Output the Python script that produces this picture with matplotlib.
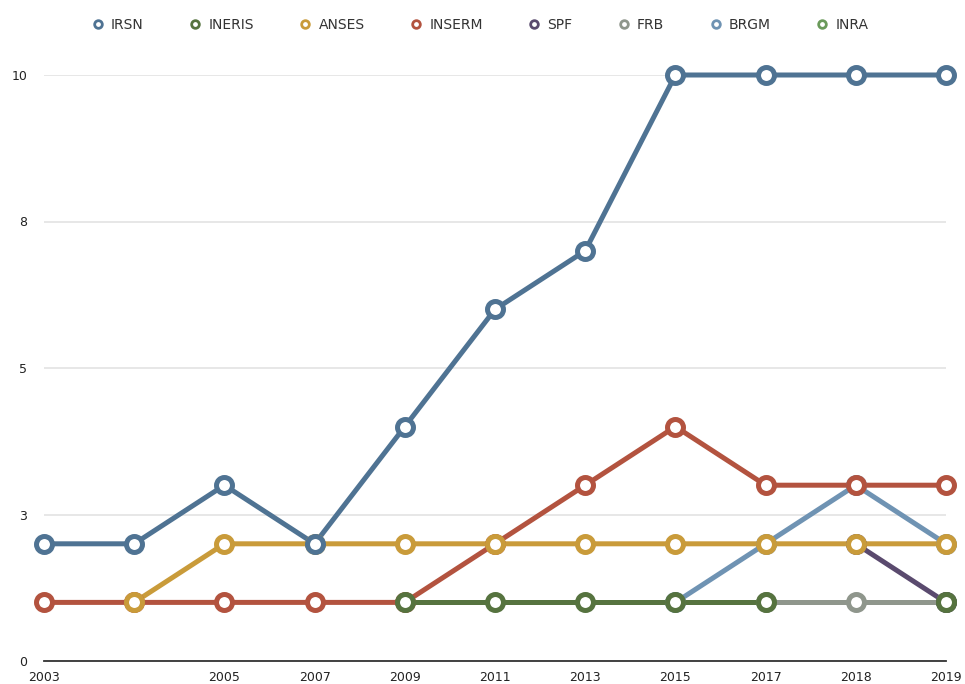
import matplotlib
matplotlib.use("Agg")
import matplotlib.pyplot as plt
import numpy as np
from matplotlib.lines import Line2D

nan = np.nan

years = ["2003", "", "2005", "2007", "2009", "2011", "2013", "2015", "2017", "2018", "2019"]

irsn = [2, 2, 3, 2, 4, 6, 7, 10, 10, 10, 10]
ineris = [nan, nan, nan, nan, 1, 1, 1, 1, 1, nan, 1]
anses = [nan, 1, 2, 2, 2, 2, 2, 2, 2, 2, 2]
inserm = [1, 1, 1, 1, 1, 2, 3, 4, 3, 3, 3]
spf = [nan, nan, nan, nan, nan, nan, nan, nan, nan, 2, 1]
frb = [nan, nan, nan, nan, nan, nan, nan, nan, 1, 1, 1]
brgm = [nan, nan, nan, nan, nan, nan, nan, 1, 2, 3, 2]
inra = [nan, nan, nan, nan, nan, nan, nan, nan, nan, nan, 1]

names = ["IRSN", "INERIS", "ANSES", "INSERM", "SPF", "FRB", "BRGM", "INRA"]
series = [irsn, ineris, anses, inserm, spf, frb, brgm, inra]
colors = ["#4F7393", "#56733F", "#C99B3A", "#B3533F", "#5A4A6E", "#8F968C", "#6F93B3", "#6A9A5A"]

yticks = [0, 2.5, 5, 7.5, 10]
ytick_labels = ["0", "3", "5", "8", "10"]

fig = plt.figure(figsize=(9.65, 6.84), dpi=100)
ax = fig.add_axes([44 / 965, 1 - 661 / 684, (946 - 44) / 965, (661 - 75) / 684])

x = np.arange(len(years))
n = len(series)
for i, (name, vals, c) in enumerate(zip(names, series, colors)):
    ax.plot(x, vals, "-", color=c, lw=3.6, zorder=2 + (n - i) * 0.01,
            solid_capstyle="round", clip_on=False)
    ax.plot(x, vals, "o", color=c, ms=11.5, mew=3.6, mfc="white", ls="none",
            zorder=3 + (n - i) * 0.01, clip_on=False)

ax.set_xlim(0, len(years) - 1)
ax.set_ylim(0, 10)
ax.set_xticks(x)
ax.set_xticklabels(years, fontsize=9, color="#222222")
ax.set_yticks(yticks)
ax.set_yticklabels(ytick_labels, fontsize=9, color="#222222")
ax.tick_params(axis="both", length=0)
ax.tick_params(axis="y", pad=12)
ax.tick_params(axis="x", pad=7)
ax.grid(axis="y", color="#e3e3e3", lw=1.2)
ax.set_axisbelow(True)
for s in ["top", "right", "left"]:
    ax.spines[s].set_visible(False)
ax.spines["bottom"].set_color("#333333")
ax.spines["bottom"].set_linewidth(1.3)
ax.spines["bottom"].set_zorder(1)

handles = [Line2D([], [], marker="o", ls="none", color=c, mfc="white", ms=5.5, mew=2)
           for c in colors]
fig.legend(handles, names, loc="center", bbox_to_anchor=(0.497, 1 - 25 / 684), ncol=8,
           frameon=False, fontsize=10, handletextpad=0.45, columnspacing=3.2,
           handlelength=1.0, labelcolor="#333333")

fig.savefig("out.png", dpi=100)
